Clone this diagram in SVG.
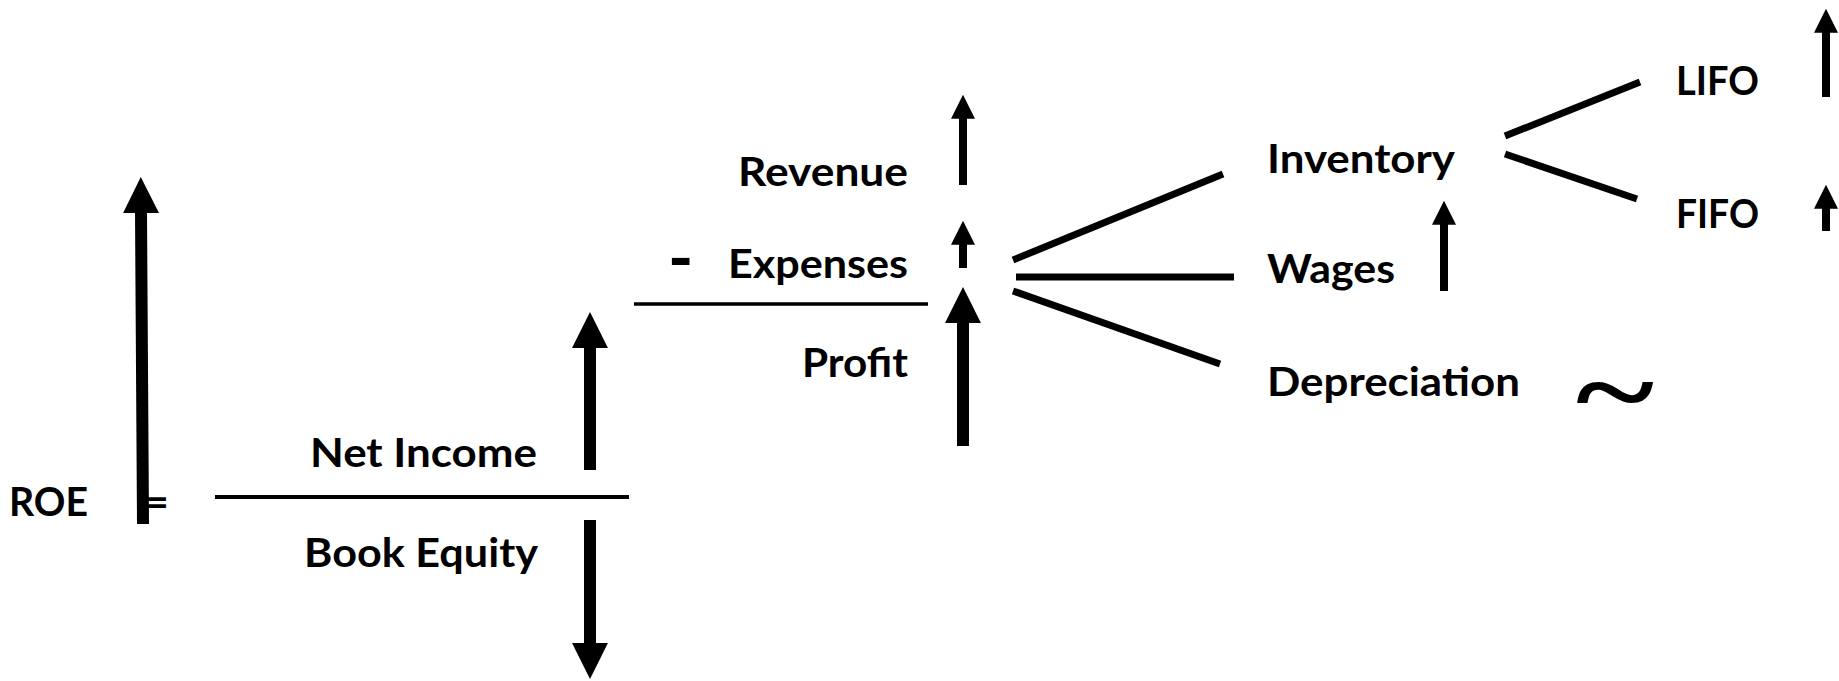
<svg xmlns="http://www.w3.org/2000/svg" width="1839" height="681" viewBox="0 0 1839 681">
<defs>
<style>
.t{font-family:"Lato","Liberation Sans",sans-serif;font-weight:bold;font-size:41px;fill:#000}
.e{text-anchor:end}
.ln{stroke:#000;fill:none}
.ar{stroke:#000;fill:none;marker-end:url(#head)}
</style>
<marker id="head" viewBox="0 0 10 10" refX="0.3" refY="5" markerWidth="3" markerHeight="3" orient="auto" markerUnits="strokeWidth">
<path d="M0,0 L10,5 L0,10 z" fill="#000"/>
</marker>
</defs>
<rect width="1839" height="681" fill="#fff"/>
<g id="roe">
<text class="t" x="9" y="516" textLength="79" lengthAdjust="spacingAndGlyphs">ROE</text>
<text class="t" x="145" y="516">=</text>
</g>
<g id="net-income">
<text class="t e" x="537" y="467" textLength="227" lengthAdjust="spacingAndGlyphs">Net Income</text>
</g>
<g id="book-equity">
<text class="t e" x="538" y="567" textLength="234" lengthAdjust="spacingAndGlyphs">Book Equity</text>
</g>
<g id="revenue">
<text class="t e" x="908" y="186" textLength="170" lengthAdjust="spacingAndGlyphs">Revenue</text>
</g>
<g id="expenses">
<text class="t" x="668" y="282" style="font-size:68px">-</text>
<text class="t e" x="908" y="278" textLength="180" lengthAdjust="spacingAndGlyphs">Expenses</text>
</g>
<g id="profit">
<text class="t e" x="908" y="377" textLength="106" lengthAdjust="spacingAndGlyphs">Profit</text>
</g>
<g id="inventory">
<text class="t" x="1267" y="173" textLength="188" lengthAdjust="spacingAndGlyphs">Inventory</text>
</g>
<g id="wages">
<text class="t" x="1267" y="283" textLength="128" lengthAdjust="spacingAndGlyphs">Wages</text>
</g>
<g id="depreciation">
<text class="t" x="1267" y="396" textLength="253" lengthAdjust="spacingAndGlyphs">Depreciation</text>
<text transform="translate(1576,429) scale(1,0.75)" x="0" y="0" style="font-family:'Liberation Serif',serif;font-weight:bold;font-size:150px;fill:#000">~</text>
</g>
<g id="lifo">
<text class="t" x="1676" y="95" textLength="83" lengthAdjust="spacingAndGlyphs">LIFO</text>
</g>
<g id="fifo">
<text class="t" x="1676" y="228" textLength="83" lengthAdjust="spacingAndGlyphs">FIFO</text>
</g>
<g id="connectors">
<line class="ln" x1="215" y1="497" x2="629" y2="497" stroke-width="4"/>
<line class="ln" x1="634" y1="304" x2="928" y2="304" stroke-width="3.5"/>
<line class="ln" x1="1013" y1="260" x2="1223" y2="174" stroke-width="7"/>
<line class="ln" x1="1016" y1="277" x2="1234" y2="277" stroke-width="7"/>
<line class="ln" x1="1013" y1="291" x2="1220" y2="364" stroke-width="7"/>
<line class="ln" x1="1505" y1="136" x2="1640" y2="82" stroke-width="7"/>
<line class="ln" x1="1505" y1="154" x2="1637" y2="199" stroke-width="7"/>
<line class="ar" x1="143" y1="524" x2="141" y2="212" stroke-width="12"/>
<line class="ar" x1="590" y1="470" x2="590" y2="347" stroke-width="12"/>
<line class="ar" x1="590" y1="520" x2="590" y2="644" stroke-width="12"/>
<line class="ar" x1="963" y1="185" x2="963" y2="118" stroke-width="8"/>
<line class="ar" x1="963" y1="268" x2="963" y2="244" stroke-width="8"/>
<line class="ar" x1="963" y1="446" x2="963" y2="322" stroke-width="12"/>
<line class="ar" x1="1444" y1="291" x2="1444" y2="224" stroke-width="8"/>
<line class="ar" x1="1826" y1="97" x2="1826" y2="32" stroke-width="8"/>
<line class="ar" x1="1826" y1="231" x2="1826" y2="208" stroke-width="8"/>
</g>
</svg>
